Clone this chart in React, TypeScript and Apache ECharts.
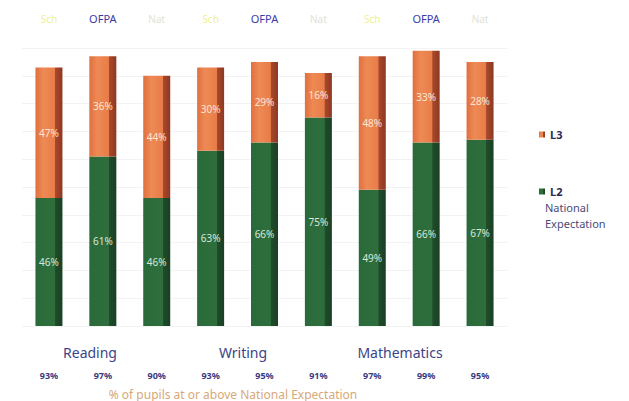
import React, { useEffect, useRef } from "react";
import * as echarts from "echarts";

const categories = ["Sch", "OFPA", "Nat", "Sch", "OFPA", "Nat", "Sch", "OFPA", "Nat"];
const l2Values = [46, 61, 46, 63, 66, 75, 49, 66, 67];
const l3Values = [47, 36, 44, 30, 29, 16, 48, 33, 28];
const totalLabels = ["93%", "97%", "90%", "93%", "95%", "91%", "97%", "99%", "95%"];
const subjects = ["Reading", "Writing", "Mathematics"];
const subjectX = [90, 243, 400];

const orange = new echarts.graphic.LinearGradient(0, 0, 1, 0, [
  { offset: 0, color: "#e0703f" },
  { offset: 0.3, color: "#ee8a55" },
  { offset: 0.72, color: "#e87c48" },
  { offset: 0.74, color: "#a8482c" },
  { offset: 1, color: "#8e3822" },
]);
const green = new echarts.graphic.LinearGradient(0, 0, 1, 0, [
  { offset: 0, color: "#2a6a3a" },
  { offset: 0.72, color: "#2f6e3c" },
  { offset: 0.74, color: "#1f4c2a" },
  { offset: 1, color: "#1a4024" },
]);

export default function App() {
  const ref = useRef<HTMLDivElement>(null);
  useEffect(() => {
    document.body.style.margin = "0";
    const chart = echarts.init(ref.current!, null, { renderer: "svg" });
    const topColors = ["sch", "ofpa", "nat"];
    chart.setOption({
      animation: false,
      backgroundColor: "#ffffff",
      textStyle: { fontFamily: "Noto Sans" },
      grid: { left: 22, right: 122, top: 48, bottom: 75 },
      legend: {
        orient: "vertical",
        left: 534,
        top: 124,
        itemGap: 46,
        itemWidth: 6,
        itemHeight: 6,
        icon: "rect",
        data: ["L3", "L2"],
        textStyle: { color: "#2a2a55", fontSize: 11, fontWeight: "bold" },
      },
      xAxis: [
        {
          type: "category",
          data: totalLabels,
          axisLine: { show: false },
          axisTick: { show: false },
          axisLabel: { interval: 0, margin: 45, color: "#3a3a80", fontSize: 9, fontWeight: "bold" },
        },
        {
          type: "category",
          position: "top",
          data: categories,
          axisLine: { show: false },
          axisTick: { show: false },
          axisLabel: {
            interval: 0,
            margin: 24,
            fontSize: 10,
            formatter: (v: string, i: number) => `{${topColors[i % 3]}|${v}}`,
            rich: {
              sch: { color: "#eef090", fontSize: 10 },
              ofpa: { color: "#3a3aa8", fontSize: 11 },
              nat: { color: "#e2e2d4", fontSize: 10 },
            },
          },
        },
      ],
      yAxis: {
        type: "value",
        min: 0,
        max: 100,
        interval: 10,
        axisLabel: { show: false },
        axisLine: { show: false },
        axisTick: { show: false },
        splitLine: { lineStyle: { color: "#f3f3f3" } },
      },
      series: [
        {
          name: "L2",
          type: "bar",
          stack: "total",
          barWidth: 27,
          data: l2Values,
          itemStyle: { color: green },
          label: {
            show: true,
            position: "inside",
            formatter: "{c}%",
            color: "#d8e8d8",
            fontSize: 10,
          },
        },
        {
          name: "L3",
          type: "bar",
          stack: "total",
          barWidth: 27,
          data: l3Values,
          itemStyle: { color: orange },
          label: {
            show: true,
            position: "inside",
            formatter: "{c}%",
            color: "#fbe6d4",
            fontSize: 10,
          },
        },
      ],
      graphic: [
        ...subjects.map((s, i) => ({
          type: "text",
          x: subjectX[i],
          y: 352,
          style: {
            text: s,
            fill: "#3a4488",
            fontSize: 14,
            fontFamily: "Noto Sans",
            align: "center",
            verticalAlign: "middle",
          },
        })),
        {
          type: "text",
          x: 545,
          y: 199,
          style: {
            text: "National\nExpectation",
            fill: "#4a4a78",
            fontSize: 11,
            lineHeight: 16,
            fontFamily: "Noto Sans",
            verticalAlign: "top",
          },
        },
        {
          type: "text",
          x: 233,
          y: 394,
          style: {
            text: "% of pupils at or above National Expectation",
            fill: "#d8a878",
            fontSize: 12,
            fontFamily: "Noto Sans",
            align: "center",
            verticalAlign: "middle",
          },
        },
      ],
    });
    return () => chart.dispose();
  }, []);
  return <div ref={ref} style={{ width: 629, height: 401 }} />;
}
